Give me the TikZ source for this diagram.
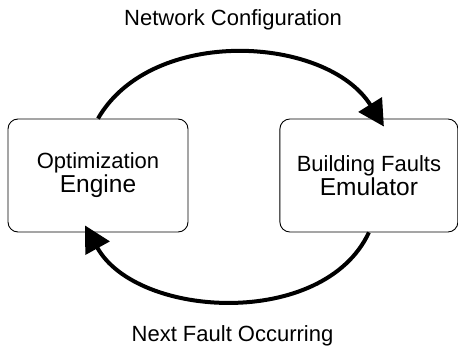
\documentclass[tikz,border=0pt]{standalone}
\usepackage{fontspec}
\setmainfont{Liberation Sans}
\usetikzlibrary{positioning, arrows.meta}

\begin{document}
\begin{tikzpicture}[
        x=1pt, y=1pt,
        node distance=91pt,
        box/.style={draw, line width=0.9pt, rectangle, rounded corners=10pt, minimum width=180pt, minimum height=113pt, align=center, font=\fontsize{22}{24}\selectfont},
        label/.style={anchor=base, font=\fontsize{22}{24}\selectfont},
        arrow/.style={-{Triangle[length=26pt, width=27pt]}, line width=4pt}
    ]
    \useasboundingbox (0,0) rectangle (458,346);

    \node[box] (Opt) at (98,170.5) {Optimization\\{\fontsize{24.5}{24}\selectfont Engine}};
    \node[box, right=of Opt, minimum width=178pt] (Emu) {Building Faults\\{\fontsize{24.5}{24}\selectfont Emulator}};

    \node[label] (Config) at (233,320) {Network Configuration};
    \node[label] (Fault) at (232.5,5) {Next Fault Occurring};

    \draw[arrow] (Opt.north) to[out=60, in=122, looseness=0.96] ([xshift=15pt, yshift=-8pt]Emu.north);
    \draw[arrow] (Emu.south) to[out=-115, in=-61, looseness=0.96] ([xshift=-13pt, yshift=7pt]Opt.south);

\end{tikzpicture}
\end{document}
